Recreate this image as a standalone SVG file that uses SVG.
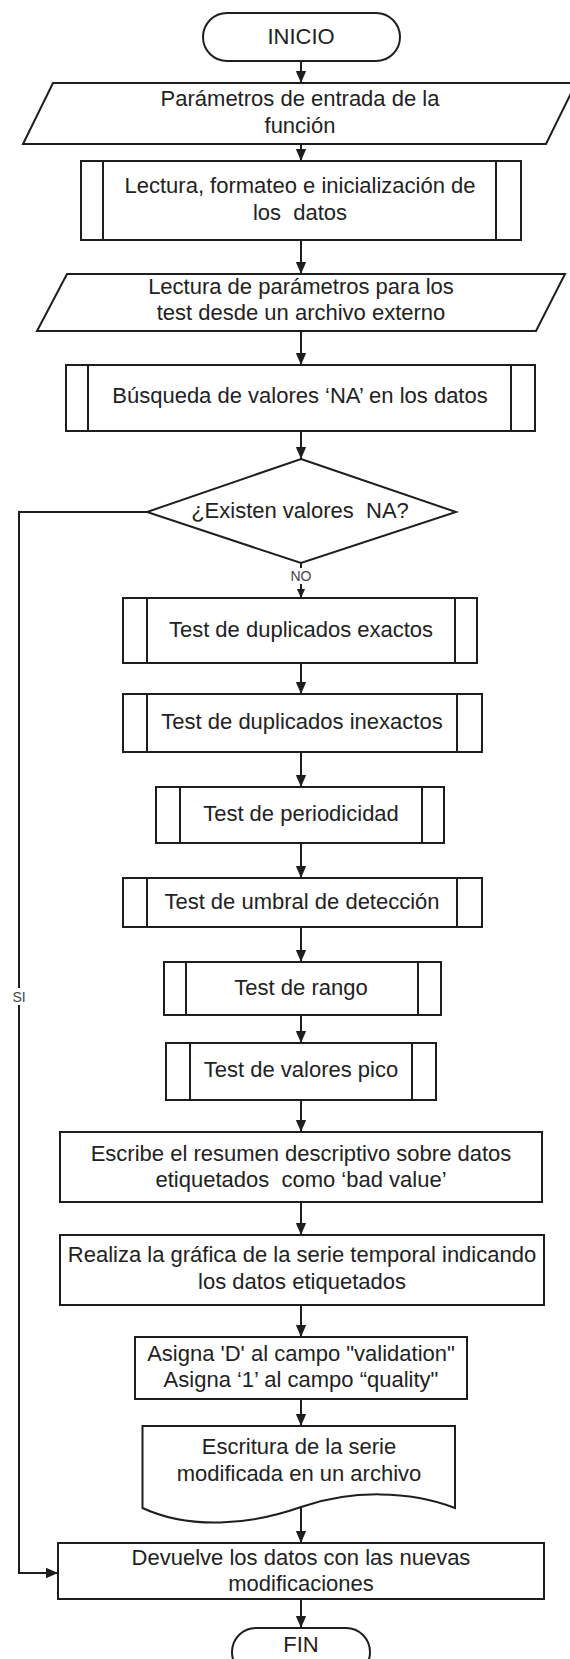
<svg xmlns="http://www.w3.org/2000/svg" width="570" height="1659" viewBox="0 0 570 1659">
<style>
  .s { fill: #ffffff; stroke: #1e1e1e; stroke-width: 2; }
  .in { stroke: #1e1e1e; stroke-width: 2; fill: none; }
  .t { font-family: "Liberation Sans", Arial, sans-serif; font-size: 22px; fill: #222222; text-anchor: middle; white-space: pre; }
  .lbl { font-family: "Liberation Sans", Arial, sans-serif; font-size: 14px; fill: #444444; text-anchor: middle; }
  .c { stroke: #1e1e1e; stroke-width: 2; fill: none; }
</style>
<defs>
  <marker id="ah" markerUnits="userSpaceOnUse" markerWidth="12" markerHeight="14" refX="14" refY="6" orient="auto" viewBox="0 0 14 12">
    <path d="M0,0 L14,6 L0,12 z" fill="#1e1e1e"/>
  </marker>
  <marker id="ahs" markerUnits="userSpaceOnUse" markerWidth="9" markerHeight="10" refX="10" refY="4.5" orient="auto" viewBox="0 0 10 9">
    <path d="M0,0 L10,4.5 L0,9 z" fill="#1e1e1e"/>
  </marker>
</defs>
<rect width="570" height="1659" fill="#ffffff"/>

<g id="connectors">
  <line class="c" x1="301" y1="61" x2="301" y2="83" marker-end="url(#ah)"/>
  <line class="c" x1="301" y1="144" x2="301" y2="161" marker-end="url(#ah)"/>
  <line class="c" x1="301" y1="240" x2="301" y2="274" marker-end="url(#ah)"/>
  <line class="c" x1="301" y1="331" x2="301" y2="365" marker-end="url(#ah)"/>
  <line class="c" x1="301" y1="431" x2="301" y2="459" marker-end="url(#ah)"/>
  <line class="c" x1="301" y1="563" x2="301" y2="598" marker-end="url(#ahs)"/>
  <line class="c" x1="301" y1="663" x2="301" y2="694" marker-end="url(#ah)"/>
  <line class="c" x1="301" y1="752" x2="301" y2="787" marker-end="url(#ah)"/>
  <line class="c" x1="301" y1="843" x2="301" y2="878" marker-end="url(#ah)"/>
  <line class="c" x1="301" y1="927" x2="301" y2="962" marker-end="url(#ah)"/>
  <line class="c" x1="301" y1="1015" x2="301" y2="1043" marker-end="url(#ah)"/>
  <line class="c" x1="301" y1="1100" x2="301" y2="1132" marker-end="url(#ah)"/>
  <line class="c" x1="301" y1="1202" x2="301" y2="1235" marker-end="url(#ah)"/>
  <line class="c" x1="301" y1="1305" x2="301" y2="1337" marker-end="url(#ah)"/>
  <line class="c" x1="301" y1="1399" x2="301" y2="1426" marker-end="url(#ah)"/>
  <line class="c" x1="301" y1="1507" x2="301" y2="1543" marker-end="url(#ah)"/>
  <line class="c" x1="301" y1="1599" x2="301" y2="1628" marker-end="url(#ah)"/>
  <polyline class="c" points="147,512 19,512 19,1573 58,1573" marker-end="url(#ah)"/>
  <rect x="290" y="568" width="22" height="16" fill="#ffffff"/>
  <text class="lbl" x="301" y="581">NO</text>
  <rect x="11" y="988" width="16" height="17" fill="#ffffff"/>
  <text class="lbl" x="19" y="1002">SI</text>
</g>

<g id="inicio">
  <rect class="s" x="203" y="13" width="197" height="48" rx="24" ry="24"/>
  <text class="t" x="301" y="44">INICIO</text>
</g>

<g id="parametros">
  <polygon class="s" points="53,83 576,83 546,144 23,144"/>
  <text class="t" x="300" y="106">Parámetros de entrada de la</text>
  <text class="t" x="300" y="133">función</text>
</g>

<g id="lectura">
  <rect class="s" x="81" y="161" width="440" height="79"/>
  <line class="in" x1="103" y1="161" x2="103" y2="240"/>
  <line class="in" x1="496" y1="161" x2="496" y2="240"/>
  <text class="t" x="300" y="193">Lectura, formateo e inicialización de</text>
  <text class="t" x="300" y="220">los  datos</text>
</g>

<g id="lectura-parametros">
  <polygon class="s" points="67,274 565,274 536,331 37,331"/>
  <text class="t" x="301" y="294">Lectura de parámetros para los</text>
  <text class="t" x="301" y="320">test desde un archivo externo</text>
</g>

<g id="busqueda">
  <rect class="s" x="66" y="365" width="469" height="66"/>
  <line class="in" x1="88" y1="365" x2="88" y2="431"/>
  <line class="in" x1="511" y1="365" x2="511" y2="431"/>
  <text class="t" x="300" y="403">Búsqueda de valores ‘NA’ en los datos</text>
</g>

<g id="decision">
  <polygon class="s" points="301,459 456,512 301,563 147,512"/>
  <text class="t" x="300" y="518">¿Existen valores  NA?</text>
</g>

<g id="dup-exactos">
  <rect class="s" x="123" y="598" width="354" height="65"/>
  <line class="in" x1="147" y1="598" x2="147" y2="663"/>
  <line class="in" x1="455" y1="598" x2="455" y2="663"/>
  <text class="t" x="301" y="637">Test de duplicados exactos</text>
</g>

<g id="dup-inexactos">
  <rect class="s" x="123" y="694" width="359" height="58"/>
  <line class="in" x1="147" y1="694" x2="147" y2="752"/>
  <line class="in" x1="457" y1="694" x2="457" y2="752"/>
  <text class="t" x="302" y="729">Test de duplicados inexactos</text>
</g>

<g id="periodicidad">
  <rect class="s" x="156" y="787" width="288" height="56"/>
  <line class="in" x1="180" y1="787" x2="180" y2="843"/>
  <line class="in" x1="422" y1="787" x2="422" y2="843"/>
  <text class="t" x="301" y="821">Test de periodicidad</text>
</g>

<g id="umbral">
  <rect class="s" x="123" y="878" width="359" height="49"/>
  <line class="in" x1="147" y1="878" x2="147" y2="927"/>
  <line class="in" x1="457" y1="878" x2="457" y2="927"/>
  <text class="t" x="302" y="909">Test de umbral de detección</text>
</g>

<g id="rango">
  <rect class="s" x="164" y="962" width="277" height="53"/>
  <line class="in" x1="186" y1="962" x2="186" y2="1015"/>
  <line class="in" x1="418" y1="962" x2="418" y2="1015"/>
  <text class="t" x="301" y="995">Test de rango</text>
</g>

<g id="pico">
  <rect class="s" x="166" y="1043" width="270" height="57"/>
  <line class="in" x1="190" y1="1043" x2="190" y2="1100"/>
  <line class="in" x1="412" y1="1043" x2="412" y2="1100"/>
  <text class="t" x="301" y="1077">Test de valores pico</text>
</g>

<g id="resumen">
  <rect class="s" x="60" y="1132" width="482" height="70"/>
  <text class="t" x="301" y="1161">Escribe el resumen descriptivo sobre datos</text>
  <text class="t" x="301" y="1187">etiquetados  como ‘bad value’</text>
</g>

<g id="grafica">
  <rect class="s" x="60" y="1235" width="484" height="70"/>
  <text class="t" x="302" y="1262">Realiza la gráfica de la serie temporal indicando</text>
  <text class="t" x="302" y="1289">los datos etiquetados</text>
</g>

<g id="asigna">
  <rect class="s" x="135" y="1337" width="332" height="62"/>
  <text class="t" x="301" y="1361">Asigna 'D' al campo "validation"</text>
  <text class="t" x="301" y="1387">Asigna ‘1’ al campo “quality"</text>
</g>

<g id="escritura">
  <path class="s" d="M142.5,1426 H455 V1508 C410,1490 350,1490 301,1507 C250,1525 190,1530 142.5,1508 Z"/>
  <text class="t" x="299" y="1454">Escritura de la serie</text>
  <text class="t" x="299" y="1481">modificada en un archivo</text>
</g>

<g id="devuelve">
  <rect class="s" x="58" y="1543" width="486" height="56"/>
  <text class="t" x="301" y="1565">Devuelve los datos con las nuevas</text>
  <text class="t" x="301" y="1591">modificaciones</text>
</g>

<g id="fin">
  <rect class="s" x="232" y="1628" width="138" height="48" rx="24" ry="24"/>
  <text class="t" x="301" y="1652">FIN</text>
</g>
</svg>
